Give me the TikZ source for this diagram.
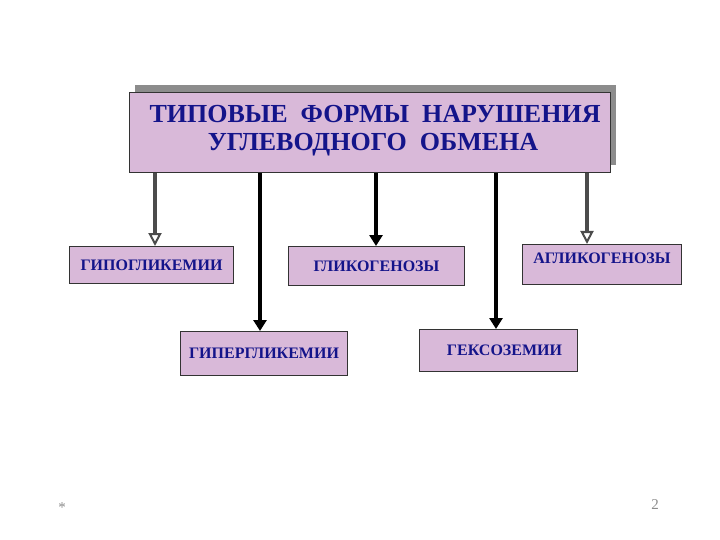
\documentclass[tikz,border=0pt]{standalone}
\usepackage{fontspec}
\setmainfont{Liberation Serif}
\usetikzlibrary{arrows.meta}
\definecolor{boxfill}{HTML}{D9B9D9}
\definecolor{navy}{HTML}{14148A}
\definecolor{shadowgray}{HTML}{8C8C8C}
\tikzset{
  box/.style={draw=black!80, line width=1pt, fill=boxfill, inner sep=0pt},
  lbl/.style={text=navy, font=\bfseries\fontsize{16}{18}\selectfont},
  blackarrow/.style={line width=3.2pt, -{Triangle[length=11pt,width=13pt]}},
  grayarrow/.style={line width=3.2pt, draw=black!70, -{Triangle[open,length=13pt,width=13pt,line width=2pt]}},
  foot/.style={text=black!45, font=\fontsize{15}{17}\selectfont}
}
\begin{document}
\begin{tikzpicture}[x=1pt,y=-1pt]
\useasboundingbox (0,0) rectangle (720,540);
% shadow of title box
\fill[shadowgray] (135,85) rectangle (616,165);
\node[box, minimum width=481pt, minimum height=80pt, anchor=north west] (title) at (129,92) {};
\node[text=navy, font=\bfseries\fontsize{26}{28}\selectfont, align=center] (titletext) at (373,131)
  {\hspace*{4pt}ТИПОВЫЕ\ \ ФОРМЫ\ \ НАРУШЕНИЯ\\УГЛЕВОДНОГО\ \ ОБМЕНА};
% boxes
\node[box, minimum width=164pt, minimum height=37pt, anchor=north west] (hypo) at (69,246) {};
\node[lbl] at (hypo.center) {ГИПОГЛИКЕМИИ};
\node[box, minimum width=176pt, minimum height=39pt, anchor=north west] (glyc) at (288,246) {};
\node[lbl] at (glyc.center) {ГЛИКОГЕНОЗЫ};
\node[box, minimum width=159pt, minimum height=40pt, anchor=north west] (aglyc) at (522,244) {};
\node[lbl] at ([yshift=6pt]aglyc.center) {АГЛИКОГЕНОЗЫ};
\node[box, minimum width=167pt, minimum height=44pt, anchor=north west] (hyper) at (180,331) {};
\node[lbl] at (hyper.center) {ГИПЕРГЛИКЕМИИ};
\node[box, minimum width=158pt, minimum height=42pt, anchor=north west] (hexo) at (419,329) {};
\node[lbl] at ([xshift=6pt]hexo.center) {ГЕКСОЗЕМИИ};
% arrows
\draw[grayarrow] (title.south -| 155,0) -- (hypo.north -| 155,0);
\draw[blackarrow] (title.south -| 260,0) -- (hyper.north -| 260,0);
\draw[blackarrow] (title.south -| 376,0) -- (glyc.north -| 376,0);
\draw[blackarrow] (title.south -| 496,0) -- (hexo.north -| 496,0);
\draw[grayarrow] (title.south -| 587,0) -- (aglyc.north -| 587,0);
% footer
\node[foot] (star) at (62,508) {*};
\node[foot] (num) at (655,505) {2};
\end{tikzpicture}
\end{document}
